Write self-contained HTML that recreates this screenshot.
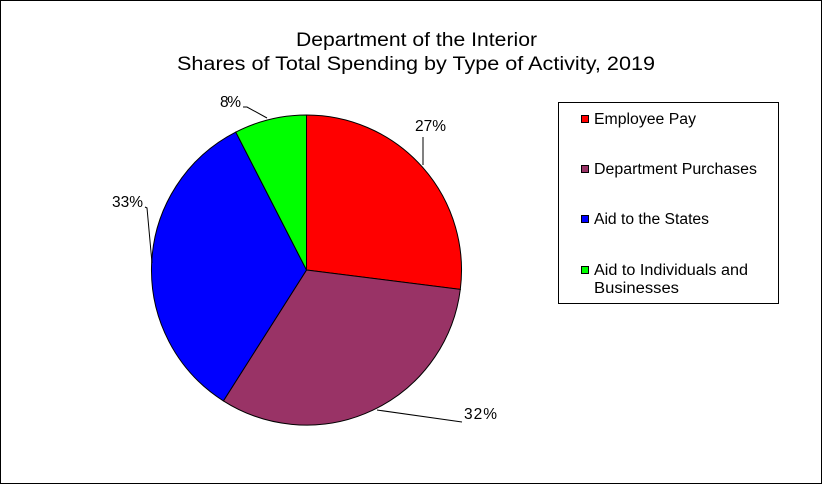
<!DOCTYPE html>
<html><head><style>
body{margin:0;background:#fff}
svg text{font-family:"Liberation Sans",Arial,sans-serif;fill:#000}
</style></head><body>
<svg width="822" height="484" viewBox="0 0 822 484" xmlns="http://www.w3.org/2000/svg">
<rect x="0.5" y="0.5" width="821" height="483" fill="#fff" stroke="#000"/>
<text x="296" y="46" font-size="19" textLength="241" lengthAdjust="spacingAndGlyphs">Department of the Interior</text>
<text x="177" y="70" font-size="19" textLength="478" lengthAdjust="spacingAndGlyphs">Shares of Total Spending by Type of Activity, 2019</text>
<g stroke="#000" stroke-width="1">
<path d="M306.5,270 L306.5,115 A155,155 0 0 1 460.3,289.4 Z" fill="#FF0000"/>
<path d="M306.5,270 L460.3,289.4 A155,155 0 0 1 223.4,400.9 Z" fill="#993366"/>
<path d="M306.5,270 L223.4,400.9 A155,155 0 0 1 235.8,132.1 Z" fill="#0000FF"/>
<path d="M306.5,270 L235.8,132.1 A155,155 0 0 1 306.5,115 Z" fill="#00FF00"/>
</g>
<g stroke="#000" stroke-width="1" fill="none">
<polyline points="423,165 423,137"/>
<polyline points="377,410 462,422"/>
<polyline points="152,263 147,208 145,207"/>
<polyline points="267,118 247,107 243,107"/>
</g>
<g font-size="15.5" lengthAdjust="spacingAndGlyphs">
<text x="415" y="131" textLength="31">27%</text>
<text x="464" y="419" textLength="33">32%</text>
<text x="112" y="207" textLength="31">33%</text>
<text x="220" y="107" textLength="21">8%</text>
</g>
<rect x="558.5" y="102.5" width="220" height="201" fill="#fff" stroke="#000"/>
<g stroke="#000" stroke-width="1">
<rect x="581.5" y="115.5" width="7" height="7" fill="#FF0000"/>
<rect x="581.5" y="165.5" width="7" height="7" fill="#993366"/>
<rect x="581.5" y="215.5" width="7" height="7" fill="#0000FF"/>
<rect x="581.5" y="266.5" width="7" height="7" fill="#00FF00"/>
</g>
<g font-size="15.5">
<text x="594" y="124" textLength="102" lengthAdjust="spacingAndGlyphs">Employee Pay</text>
<text x="594" y="174" textLength="163" lengthAdjust="spacingAndGlyphs">Department Purchases</text>
<text x="594" y="224" textLength="115" lengthAdjust="spacingAndGlyphs">Aid to the States</text>
<text x="594" y="275" textLength="154" lengthAdjust="spacingAndGlyphs">Aid to Individuals and</text>
<text x="594" y="293" textLength="85" lengthAdjust="spacingAndGlyphs">Businesses</text>
</g>
</svg>
</body></html>
